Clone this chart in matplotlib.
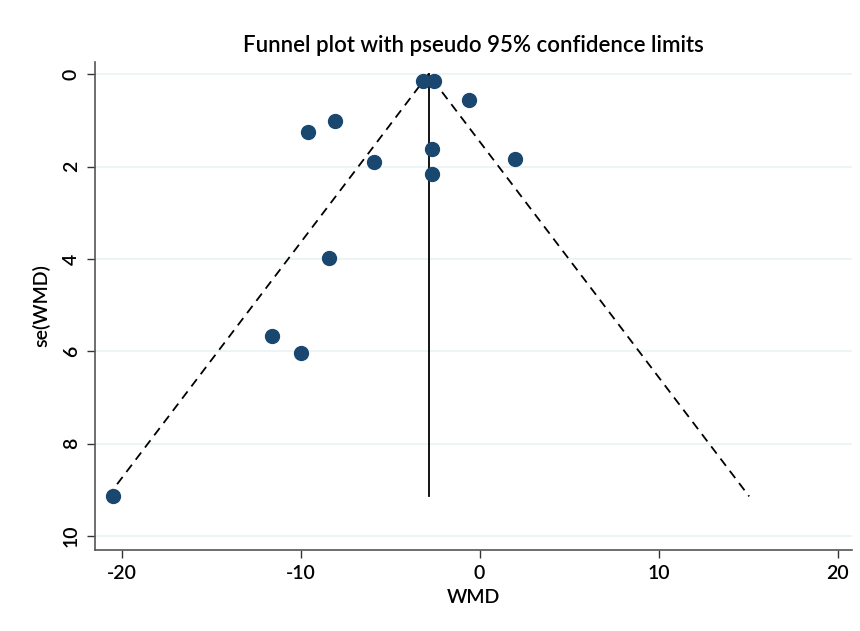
import numpy as np
import matplotlib
matplotlib.use("Agg")
import matplotlib.pyplot as plt

plt.rcParams['font.family'] = ['Lato', 'DejaVu Sans']
plt.rcParams['axes.unicode_minus'] = False

# study estimates
wmd = [-3.15, -2.55, -0.6, -8.1, -9.6, -5.9, -2.67, -2.67, 2.0, -8.4, -11.6, -10.0, -20.5]
se = [0.14, 0.15, 0.56, 1.01, 1.26, 1.90, 1.62, 2.16, 1.84, 3.98, 5.67, 6.04, 9.14]

pooled = -2.85
max_se = 9.14

xticks = [-20, -10, 0, 10, 20]
yticks = [0, 2, 4, 6, 8, 10]

fig = plt.figure(figsize=(8.6, 6.31), dpi=100)
ax = fig.add_axes([0.1105, 0.1284, 0.8798, 0.7738])

# pseudo 95% limits
ax.plot([pooled - 1.96 * max_se, pooled, pooled + 1.96 * max_se], [max_se, 0, max_se],
        color="black", lw=1.3, ls=(0, (5, 3.5)), zorder=2)
ax.plot([pooled, pooled], [0, max_se], color="black", lw=1.3, zorder=2)

ax.plot(wmd, se, "o", color="#1a476f", ms=10, mec="#1a476f", zorder=3)

ax.set_xlim(-21.48, 20.79)
ax.set_ylim(10.3, -0.27)
ax.set_xticks(xticks)
ax.set_yticks(yticks)
ax.set_yticklabels([str(v) for v in yticks], rotation=90, va="center")
ax.grid(axis="y", color="#eaf2f3", lw=1.2, zorder=0)
ax.set_axisbelow(True)

for s in ["top", "right"]:
    ax.spines[s].set_visible(False)
for s in ["left", "bottom"]:
    ax.spines[s].set_color("#555555")
    ax.spines[s].set_linewidth(1.2)
ax.tick_params(direction="out", length=6, width=1, color="#333333", labelsize=14, pad=5)
for lab in ax.get_xticklabels() + ax.get_yticklabels():
    lab.set_fontweight("semibold")

ax.set_xlabel("WMD", fontsize=14, labelpad=5, fontweight="semibold")
ax.set_ylabel("se(WMD)", fontsize=14, labelpad=9, fontweight="semibold")
ax.set_title("Funnel plot with pseudo 95% confidence limits", fontsize=16, pad=7,
             fontweight="semibold")

fig.savefig("out.png", dpi=100)
